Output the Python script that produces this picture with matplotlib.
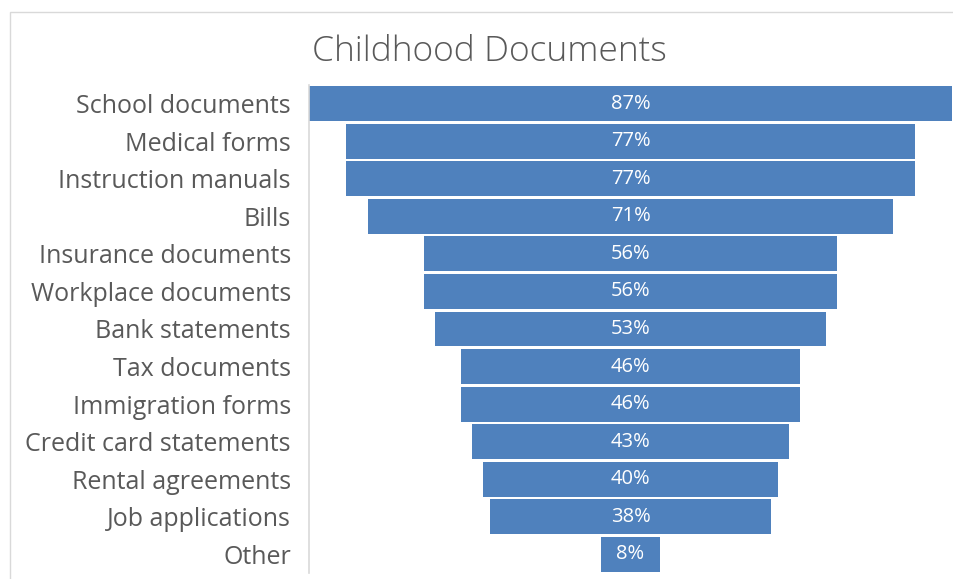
import matplotlib.pyplot as plt
from matplotlib.patches import Rectangle

categories = ['School documents', 'Medical forms', 'Instruction manuals', 'Bills',
              'Insurance documents', 'Workplace documents', 'Bank statements',
              'Tax documents', 'Immigration forms', 'Credit card statements',
              'Rental agreements', 'Job applications', 'Other']
values = [87, 77, 77, 71, 56, 56, 53, 46, 46, 43, 40, 38, 8]

bar_color = '#4F81BD'
text_color = '#595959'

fig = plt.figure(figsize=(9.54, 5.79), dpi=100)
W, H = 954, 579

# light outline of the chart area (runs off the right and bottom edges)
fig.patches.append(Rectangle((10 / W, -0.05), 1.1, 1.05 - 12 / H, transform=fig.transFigure,
                             fill=False, edgecolor='#D9D9D9', linewidth=1.0))

ax = fig.add_axes([309 / W, 1 - 573 / H, (952 - 309) / W, (573 - 85) / H])

top = max(values)
positions = list(range(len(categories)))
# centre each bar to build the funnel shape
lefts = [(top - v) / 2 for v in values]
ax.barh(positions, values, left=lefts, height=0.93, color=bar_color)

for p, v, l in zip(positions, values, lefts):
    ax.text(l + v / 2, p, f'{v}%', ha='center', va='center', color='white',
            fontsize=14.5, family='Open Sans')

ax.set_xlim(0, top)
ax.set_ylim(len(categories) - 0.5, -0.5)
ax.set_yticks(positions)
ax.set_yticklabels(categories, fontsize=18, color=text_color, family='Open Sans')
ax.tick_params(axis='y', length=0, pad=13)
ax.set_xticks([])

for side in ['top', 'right', 'bottom']:
    ax.spines[side].set_visible(False)
ax.spines['left'].set_color('#D9D9D9')
ax.spines['left'].set_linewidth(1.2)

fig.text(489 / W, 1 - 52 / H, 'Childhood Documents', ha='center', va='center',
         fontsize=25.5, color=text_color, family='Open Sans', fontweight='light')

fig.savefig('out.png', dpi=100)
